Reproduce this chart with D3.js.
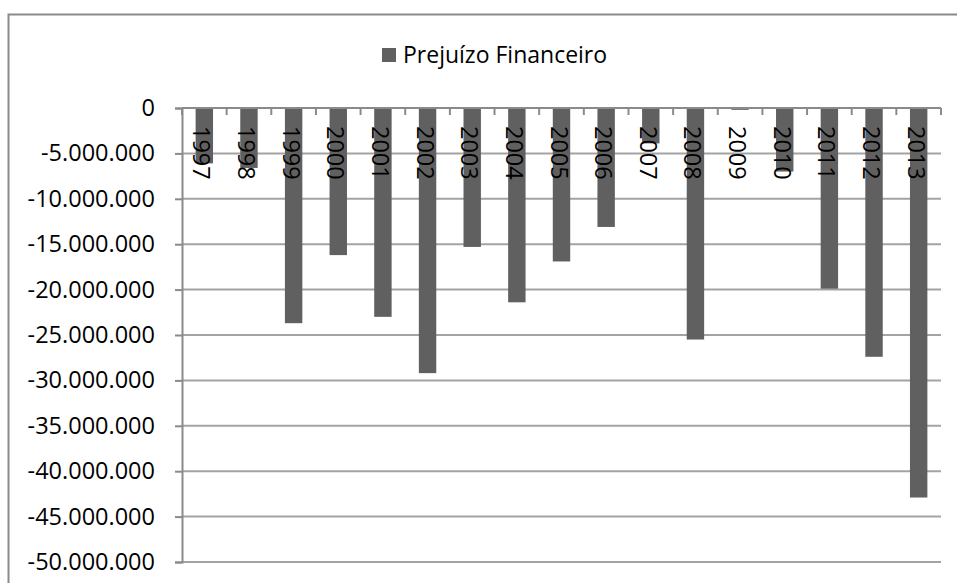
<!DOCTYPE html>
<html>
<head>
<meta charset="utf-8">
<script src="https://cdn.jsdelivr.net/npm/d3@7"></script>
<style>
  html, body { margin: 0; padding: 0; background: #fff; }
  svg { display: block; }
  text { font-family: "Open Sans", sans-serif; fill: #000; }
</style>
</head>
<body>
<svg id="chart" width="957" height="583"></svg>
<script>
const categories = ["1997","1998","1999","2000","2001","2002","2003","2004","2005","2006","2007","2008","2009","2010","2011","2012","2013"];
const values = [-6100000,-6600000,-23700000,-16200000,-23000000,-29200000,-15300000,-21400000,-16900000,-13100000,-3900000,-25500000,-200000,-7000000,-19900000,-27400000,-42900000];
const yTicks = [0,-5000000,-10000000,-15000000,-20000000,-25000000,-30000000,-35000000,-40000000,-45000000,-50000000];
const seriesName = "Prejuízo Financeiro";

(function () {
const svg = d3.select("#chart");
const pL = 182, pR = 941, pT = 108, pB = 562;

// outer frame
svg.append("rect").attr("x", 8.5).attr("y", 14.5).attr("width", 960).attr("height", 600)
  .attr("fill", "none").attr("stroke", "#8a8a8a").attr("stroke-width", 2);

const x = d3.scaleBand().domain(categories).range([pL, pR]).paddingInner(0).paddingOuter(0);
const y = d3.scaleLinear().domain([0, -50000000]).range([pT, pB]);

const fmt = v => v === 0 ? "0" : "-" + d3.format(",")(Math.abs(v)).replace(/,/g, ".");

// gridlines
svg.append("g").selectAll("line").data(yTicks.filter(d => d !== 0)).join("line")
  .attr("x1", pL).attr("x2", pR)
  .attr("y1", d => y(d)).attr("y2", d => y(d))
  .attr("stroke", "#a3a3a3").attr("stroke-width", 2);

// y axis
const yAxis = d3.axisLeft(y).tickValues(yTicks).tickSize(7).tickPadding(20).tickFormat(fmt);
const gy = svg.append("g").attr("transform", `translate(${pL},0)`).call(yAxis);
gy.select(".domain").attr("stroke", "#8a8a8a").attr("stroke-width", 2);
gy.selectAll(".tick line").attr("stroke", "#8a8a8a").attr("stroke-width", 2);
gy.selectAll(".tick text").attr("font-size", 23.5).attr("font-family", "Open Sans, sans-serif").attr("fill", "#000");

// bars
const bw = x.bandwidth() * 0.39;
svg.append("g").selectAll("rect").data(values).join("rect")
  .attr("x", (d, i) => x(categories[i]) + (x.bandwidth() - bw) / 2)
  .attr("y", d => y(0))
  .attr("width", bw)
  .attr("height", d => y(d) - y(0))
  .attr("fill", "#606060");

// x axis line at zero with ticks at band boundaries
const gx = svg.append("g");
gx.append("line").attr("x1", pL).attr("x2", pR).attr("y1", y(0)).attr("y2", y(0))
  .attr("stroke", "#8a8a8a").attr("stroke-width", 2);
const bounds = categories.map(c => x(c)).concat([pR]);
gx.selectAll("line.t").data(bounds).join("line").attr("class", "t")
  .attr("x1", d => d).attr("x2", d => d)
  .attr("y1", y(0)).attr("y2", y(0) + 7)
  .attr("stroke", "#8a8a8a").attr("stroke-width", 2);

// category labels rotated
gx.selectAll("text").data(categories).join("text")
  .attr("transform", c => `translate(${x(c) + x.bandwidth() / 2 - 11},${y(0) + 18}) rotate(90)`)
  .attr("font-size", 23.5)
  .attr("text-anchor", "start")
  .text(c => c);

// legend
const lg = svg.append("g");
lg.append("rect").attr("x", 382).attr("y", 48).attr("width", 14).attr("height", 14).attr("fill", "#606060");
lg.append("text").attr("x", 403).attr("y", 63).attr("font-size", 23).text(seriesName);
})();
</script>
</body>
</html>
